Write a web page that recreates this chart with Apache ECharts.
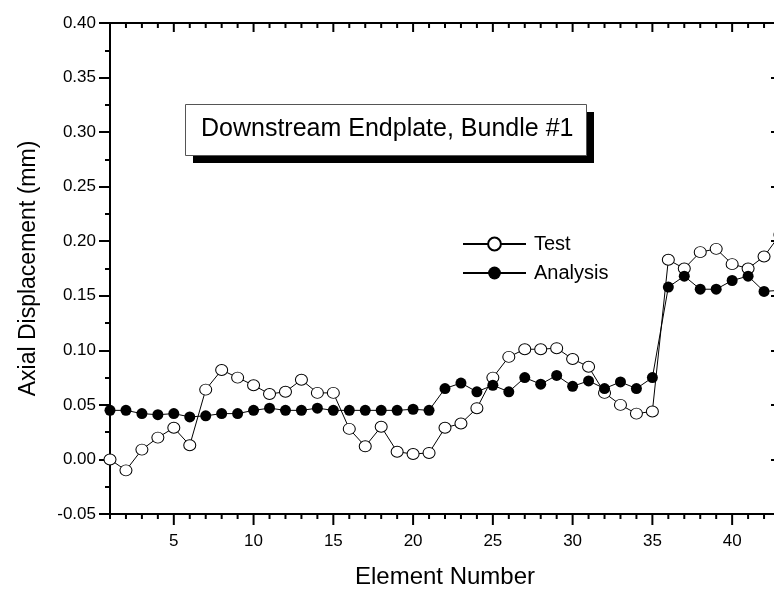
<!DOCTYPE html>
<html>
<head>
<meta charset="utf-8">
<script src="https://cdn.jsdelivr.net/npm/echarts@6/dist/echarts.min.js"></script>
<style>
  html, body { margin: 0; padding: 0; background: #fff; }
  #chart { width: 774px; height: 593px; }
</style>
</head>
<body>
<div id="chart"></div>
<script>
// Axial displacement of the downstream endplate, bundle #1, per element
const elements = [1,2,3,4,5,6,7,8,9,10,11,12,13,14,15,16,17,18,19,20,21,22,
                  23,24,25,26,27,28,29,30,31,32,33,34,35,36,37,38,39,40,41,42,43];
const testValues = [0.000,-0.010,0.009,0.020,0.029,0.013,0.064,0.082,0.075,0.068,
                    0.060,0.062,0.073,0.061,0.061,0.028,0.012,0.030,0.007,0.005,
                    0.006,0.029,0.033,0.047,0.075,0.094,0.101,0.101,0.102,0.092,
                    0.085,0.061,0.050,0.042,0.044,0.183,0.175,0.190,0.193,0.179,
                    0.175,0.186,0.206];
const analysisValues = [0.045,0.045,0.042,0.041,0.042,0.039,0.040,0.042,0.042,0.045,
                        0.047,0.045,0.045,0.047,0.045,0.045,0.045,0.045,0.045,0.046,
                        0.045,0.065,0.070,0.062,0.068,0.062,0.075,0.069,0.077,0.067,
                        0.072,0.065,0.071,0.065,0.075,0.158,0.168,0.156,0.156,0.164,
                        0.168,0.154,0.155];
const xLabelTicks = [5,10,15,20,25,30,35,40];
const seriesNames = ['Test', 'Analysis'];
const titleText = 'Downstream Endplate, Bundle #1';

const FONT = 'Liberation Sans, Arial, sans-serif';
const X_MIN = 1, X_MAX = 43, Y_MIN = -0.05, Y_MAX = 0.40;

const toPairs = vals => elements.map((e, i) => [e, vals[i]]);

const chart = echarts.init(document.getElementById('chart'), null, { renderer: 'canvas' });

const frameLine = () => ({ show: true, onZero: false, lineStyle: { color: '#000', width: 2 } });
const tickLine = () => ({ color: '#000', width: 2 });

// inward element ticks on the top frame edge, placed through the x scale
function renderTopTicks(params, api) {
  const x = api.value(0);
  const p = api.coord([x, Y_MAX]);
  const len = xLabelTicks.indexOf(x) >= 0 ? 9 : 5;
  return {
    type: 'line',
    shape: { x1: p[0], y1: p[1], x2: p[0], y2: p[1] + len },
    style: { stroke: '#000', lineWidth: 2 }
  };
}
// outward element ticks under the bottom frame edge (in the thin strip grid)
function renderBottomTicks(params, api) {
  const x = api.value(0);
  const p = api.coord([x, 1]);
  const len = xLabelTicks.indexOf(x) >= 0 ? 11 : 5;
  return {
    type: 'line',
    shape: { x1: p[0], y1: p[1], x2: p[0], y2: p[1] + len },
    style: { stroke: '#000', lineWidth: 2 }
  };
}

const option = {
  animation: false,
  backgroundColor: '#fff',
  grid: [
    { left: 110, top: 23, width: 670, height: 491, outerBoundsMode: 'none' },
    { left: 110, top: 514, width: 670, height: 12, outerBoundsMode: 'none' }
  ],
  legend: {
    orient: 'vertical',
    left: 462, top: 234,
    padding: 0,
    itemWidth: 63, itemHeight: 16, itemGap: 9,
    textStyle: { fontFamily: FONT, fontSize: 20, color: '#000', padding: [0, 0, 0, 3] },
    data: seriesNames
  },
  xAxis: [
    {
      type: 'value', gridIndex: 0, position: 'bottom', min: X_MIN, max: X_MAX, interval: 1,
      axisLine: frameLine(),
      axisTick: { show: false },
      axisLabel: {
        show: true, interval: 0,
        formatter: v => (xLabelTicks.indexOf(v) >= 0 ? String(v) : ''),
        fontFamily: FONT, fontSize: 17, color: '#000', margin: 19
      },
      splitLine: { show: false },
      name: 'Element Number', nameLocation: 'middle', nameGap: 51,
      nameTextStyle: { fontFamily: FONT, fontSize: 24, color: '#000' }
    },
    {
      type: 'value', gridIndex: 0, position: 'top', min: X_MIN, max: X_MAX,
      axisLine: frameLine(),
      axisTick: { show: false },
      axisLabel: { show: false },
      splitLine: { show: false }
    },
    {
      type: 'value', gridIndex: 1, min: X_MIN, max: X_MAX, show: false
    }
  ],
  yAxis: [
    {
      type: 'value', gridIndex: 0, position: 'left', min: Y_MIN, max: Y_MAX, interval: 0.05,
      axisLine: frameLine(),
      axisTick: { show: true, length: 11, lineStyle: tickLine() },
      minorTick: { show: true, splitNumber: 2, length: 5, lineStyle: tickLine() },
      axisLabel: {
        fontFamily: FONT, fontSize: 17, color: '#000', margin: 14,
        formatter: v => v.toFixed(2)
      },
      splitLine: { show: false }, minorSplitLine: { show: false },
      name: 'Axial Displacement (mm)', nameLocation: 'middle', nameGap: 70,
      nameTextStyle: { fontFamily: FONT, fontSize: 23, color: '#000' }
    },
    {
      type: 'value', gridIndex: 0, position: 'right', min: Y_MIN, max: Y_MAX, interval: 0.05,
      axisLine: frameLine(),
      axisTick: { show: true, inside: true, length: 9, lineStyle: tickLine() },
      minorTick: { show: true, splitNumber: 2, length: 5, lineStyle: tickLine() },
      axisLabel: { show: false },
      splitLine: { show: false }, minorSplitLine: { show: false }
    },
    {
      type: 'value', gridIndex: 1, min: 0, max: 1, show: false
    }
  ],
  series: [
    {
      name: 'top ticks', type: 'custom',
      xAxisIndex: 0, yAxisIndex: 0,
      data: elements.map(e => [e, Y_MAX]),
      encode: { x: 0, y: 1 },
      renderItem: renderTopTicks,
      clip: false, silent: true, z: 20
    },
    {
      name: 'bottom ticks', type: 'custom',
      xAxisIndex: 2, yAxisIndex: 2,
      data: elements.map(e => [e, 1]),
      encode: { x: 0, y: 1 },
      renderItem: renderBottomTicks,
      clip: false, silent: true, z: 20
    },
    {
      name: seriesNames[0], type: 'line',
      xAxisIndex: 0, yAxisIndex: 0,
      data: toPairs(testValues),
      symbol: 'circle', symbolSize: [12, 11],
      itemStyle: { color: '#fff', borderColor: '#000', borderWidth: 1 },
      lineStyle: { color: '#000', width: 1 },
      emphasis: { disabled: true }
    },
    {
      name: seriesNames[1], type: 'line',
      xAxisIndex: 0, yAxisIndex: 0,
      data: toPairs(analysisValues),
      symbol: 'circle', symbolSize: 11,
      itemStyle: { color: '#000', borderColor: '#000', borderWidth: 0 },
      lineStyle: { color: '#000', width: 1 },
      emphasis: { disabled: true }
    }
  ],
  graphic: [
    { // drop shadow behind the title box
      type: 'rect', left: 193, top: 112, z: 10,
      shape: { width: 401, height: 51 },
      style: { fill: '#000' }
    },
    {
      type: 'rect', left: 185, top: 104, z: 11,
      shape: { width: 401, height: 51 },
      style: { fill: '#fff', stroke: '#555', lineWidth: 1 }
    },
    {
      type: 'text', left: 201, top: 117, z: 12,
      style: { text: titleText, font: '25px ' + FONT, fill: '#000' }
    }
  ]
};

chart.setOption(option);
</script>
</body>
</html>
